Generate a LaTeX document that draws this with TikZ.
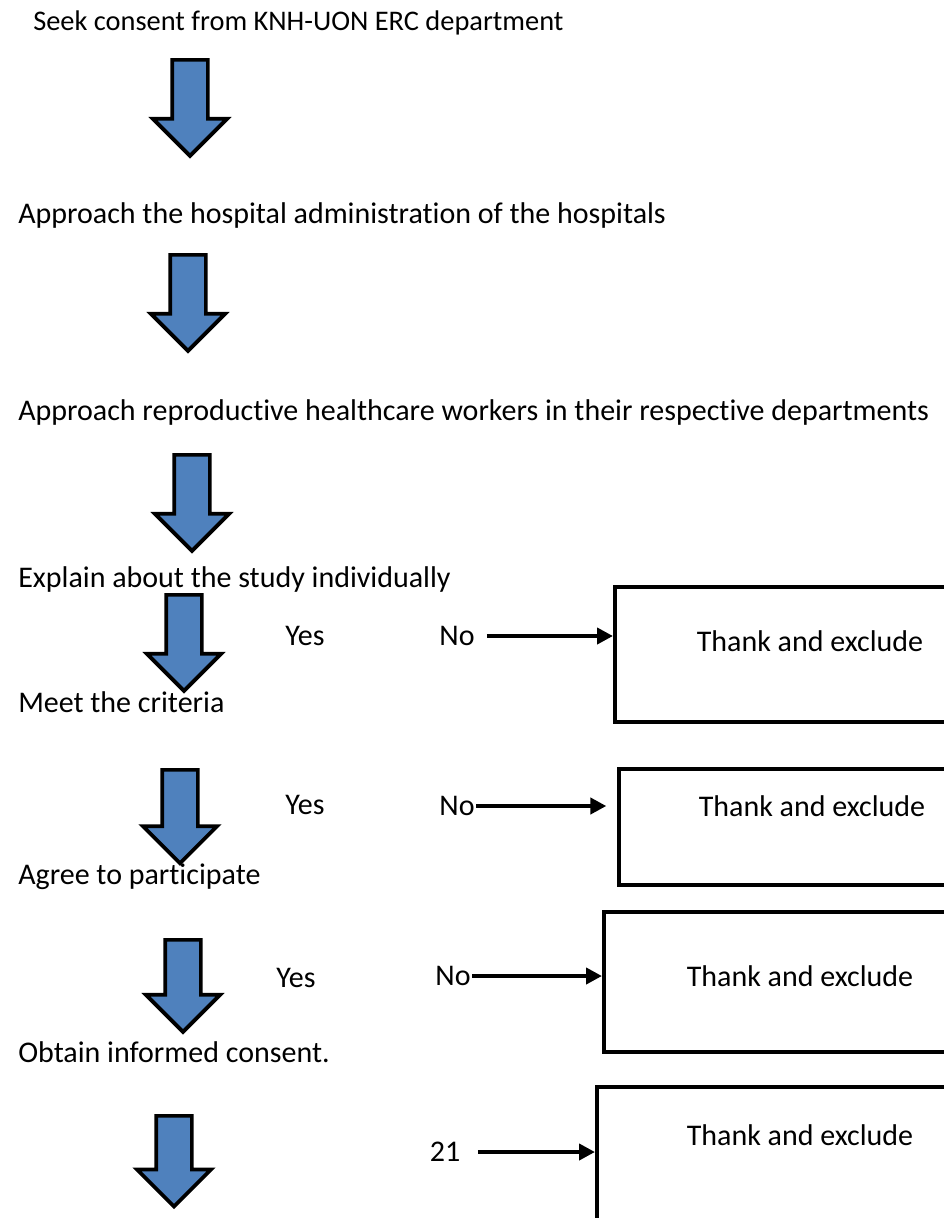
\documentclass[tikz,border=0pt]{standalone}
\usepackage{fontspec}
\setmainfont{Carlito}[Ligatures=CommonOff]
\usepackage{tikz}
\usetikzlibrary{arrows.meta,positioning,shapes.arrows}
\definecolor{ablue}{HTML}{4F81BD}
\tikzset{
  steptext/.style={anchor=base west, inner sep=0pt, font=\fontsize{22.5}{27}\selectfont},
  sidetext/.style={inner sep=1pt, font=\fontsize{22.5}{27}\selectfont},
  downarrow/.style={single arrow, draw=black, fill=ablue, line width=2.8pt, rotate=-90,
    anchor=tail, minimum height=72pt, inner xsep=0pt, inner ysep=12pt,
    single arrow head extend=14.4pt},
  exclbox/.style={draw, line width=3pt, rectangle, anchor=north west, inner sep=0pt},
  noarrow/.style={-{Triangle[length=12pt,width=12pt]}, line width=3pt},
}

\begin{document}
\begin{tikzpicture}[x=0.75pt, y=-0.75pt]
\useasboundingbox (0,0) rectangle (943,1218);
\node[steptext, font=\fontsize{21.3}{26}\selectfont] (seek) at (33,30) {Seek consent from KNH-UON ERC department};
\node[steptext] (admin) at (18,223) {Approach the hospital administration of the hospitals};
\node[steptext] (workers) at (18,420) {Approach reproductive healthcare workers in their respective departments};
\node[steptext] (explain) at (18,587) {Explain about the study individually};
\node[steptext] (criteria) at (18,712) {Meet the criteria};
\node[steptext] (agree) at (18,884) {Agree to participate};
\node[steptext] (consent) at (18,1062) {Obtain informed consent.};

\node[downarrow] (down1) at (190,58) {};
\node[downarrow] (down2) at (188,253) {};
\node[downarrow] (down3) at (192,453) {};
\node[downarrow] (down4) at (184,593) {};
\node[downarrow, minimum height=70pt] (down5) at (180,768) {};
\node[downarrow, minimum height=69pt] (down6) at (183,938) {};
\node[downarrow, minimum height=68pt] (down7) at (174,1114) {};

\node[exclbox, minimum width=290pt, minimum height=101pt] (excl1) at (613,585) {};
\node[exclbox, minimum width=287pt, minimum height=87pt] (excl2) at (617,767) {};
\node[exclbox, minimum width=298pt, minimum height=105pt] (excl3) at (602,910) {};
\node[exclbox, minimum width=304pt, minimum height=161pt] (excl4) at (595,1085) {};
\node[sidetext] (thank1) at (810,641) {Thank and exclude};
\node[sidetext] (thank2) at (812,806) {Thank and exclude};
\node[sidetext] (thank3) at (800,976) {Thank and exclude};
\node[sidetext] (thank4) at (800,1135) {Thank and exclude};

\node[sidetext] (yes1) at (305,636) {Yes};
\node[sidetext] (yes2) at (305,805) {Yes};
\node[sidetext] (yes3) at (296,978) {Yes};
\node[sidetext] (no1) at (457,636) {No};
\node[sidetext] (no2) at (457,806) {No};
\node[sidetext] (no3) at (453,976) {No};
\node[sidetext] (num) at (445,1152) {21};

\draw[noarrow, shorten <=8pt] (no1) -- (no1 -| excl1.west);
\draw[noarrow, shorten >=8pt] (no2) -- (no2 -| excl2.west);
\draw[noarrow] (no3) -- (no3 -| excl3.west);
\draw[noarrow, shorten <=12pt] (num) -- (num -| excl4.west);
\end{tikzpicture}
\end{document}
